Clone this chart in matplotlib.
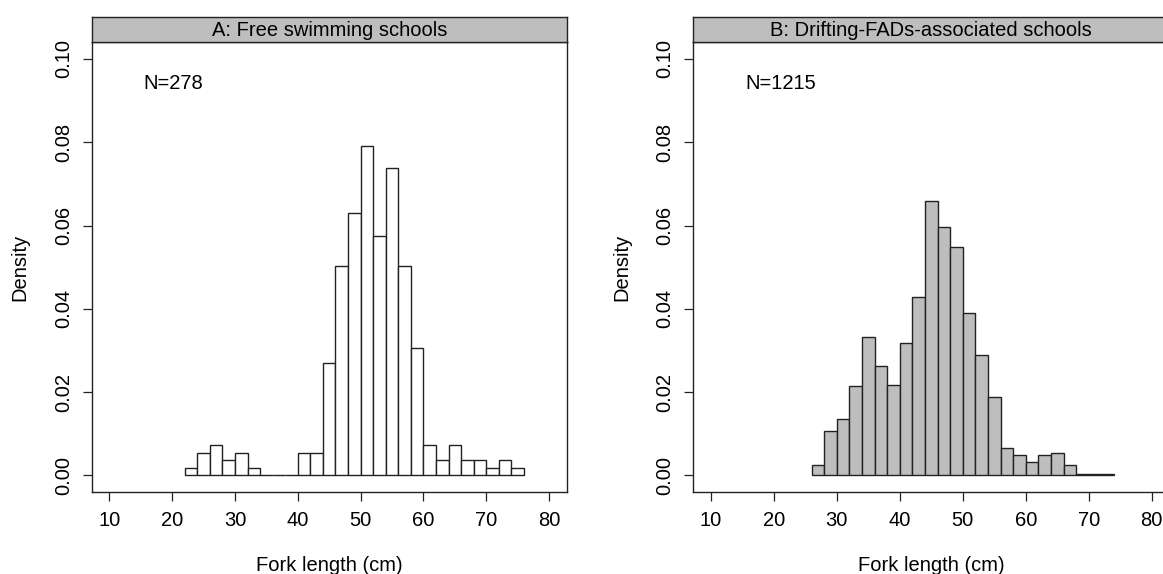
import numpy as np
import matplotlib
matplotlib.use('Agg')
import matplotlib.pyplot as plt

plt.rcParams['font.family'] = ['Liberation Sans', 'DejaVu Sans']

# ── Data: counts per 2 cm fork-length bin ─────────────────────────────────────
bin_width = 2
free_edges = np.arange(22, 78, bin_width)          # 22..76
free_counts = [1, 3, 4, 2, 3, 1, 0, 0, 0, 3, 3, 15, 28, 35, 44, 32, 41, 28, 17,
               4, 2, 4, 2, 2, 1, 2, 1]
free_n = 278

fad_edges = np.arange(26, 76, bin_width)           # 26..74
fad_counts = [6, 26, 33, 52, 81, 64, 53, 77, 104, 160, 145, 133, 95, 70, 46,
              16, 12, 8, 12, 13, 6, 1, 1, 1]
fad_n = 1215

titles = ['A: Free swimming schools', 'B: Drifting-FADs-associated schools']
x_ticks = [10, 20, 30, 40, 50, 60, 70, 80]
y_ticks = [0.00, 0.02, 0.04, 0.06, 0.08, 0.10]

# ── Layout in pixels ──────────────────────────────────────────────────────────
W, H = 1163, 574
FS = 14.5
fig = plt.figure(figsize=(W / 100, H / 100), dpi=100)


def box(l, t, r, b):
    return [l / W, 1 - b / H, (r - l) / W, (b - t) / H]


panels = [
    (free_edges, free_counts, free_n, 'white', 91.7, 566.7),
    (fad_edges, fad_counts, fad_n, '#BEBEBE', 693.3, 1169.3),
]

for i, (edges, counts, n, fill, left, right) in enumerate(panels):
    ax = fig.add_axes(box(left, 42.3, right, 492))
    dens = np.array(counts) / (n * bin_width)
    ax.bar(edges[:-1], dens, width=bin_width, align='edge',
           color=fill, edgecolor='#222222', linewidth=1.0)

    ax.set_xlim(7.2, 82.8)
    ax.set_ylim(-0.004, 0.104)
    ax.set_xticks(x_ticks)
    ax.set_yticks(y_ticks)
    ax.set_yticklabels([f'{v:.2f}' for v in y_ticks], rotation=90, va='center')
    ax.tick_params(direction='out', length=6.5, width=0.9, labelsize=FS,
                   pad=7, colors='#222222', labelcolor='black')
    for s in ax.spines.values():
        s.set_linewidth(1.0)
        s.set_color('#222222')

    ax.set_xlabel('Fork length (cm)', fontsize=FS)
    ax.xaxis.set_label_coords(0.5, -(566 - 492) / 450)
    ax.xaxis.label.set_va('center')
    ax.set_ylabel('Density', fontsize=FS)
    ax.yaxis.set_label_coords((20 - 91.7) / 475, 0.5)
    ax.yaxis.label.set_va('center')

    ax.text(15.5, 0.0942, f'N={n}', fontsize=FS, ha='left', va='center')

    # strip title
    st = fig.add_axes(box(left, 16.7, right, 42.3))
    st.set_facecolor('#BEBEBE')
    st.set_xticks([])
    st.set_yticks([])
    for s in st.spines.values():
        s.set_linewidth(1.0)
        s.set_color('#222222')
    st.text(0.5, 0.45, titles[i], transform=st.transAxes,
            ha='center', va='center', fontsize=FS)

fig.savefig('out.png', dpi=100)
